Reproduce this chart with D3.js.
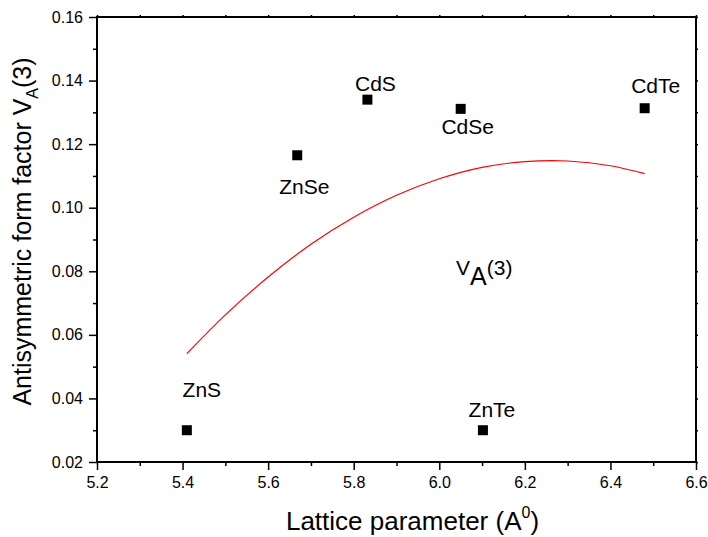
<!DOCTYPE html>
<html>
<head>
<meta charset="utf-8">
<script src="https://cdn.jsdelivr.net/npm/d3@7"></script>
<style>
  body { margin: 0; background: #fff; }
  text { font-family: 'Liberation Sans', Arial, sans-serif; fill: #000; }
</style>
</head>
<body>
<div id="app"></div>
<script>
'use strict'

// measured compounds
const compounds = ['ZnS', 'ZnSe', 'CdS', 'CdSe', 'ZnTe', 'CdTe']
const lattice   = [5.41, 5.668, 5.832, 6.05, 6.102, 6.48]
const vA3       = [0.030, 0.1165, 0.134, 0.1311, 0.030, 0.1313]

// red curve
const curveX = [5.41, 5.5, 5.6, 5.7, 5.8, 5.9, 6.0, 6.1, 6.2, 6.3, 6.4, 6.48]
const curveY = [0.0541, 0.0663, 0.0782, 0.0885, 0.0970, 0.1039, 0.1091, 0.1127, 0.1145, 0.1147, 0.1132, 0.1107]

const xTicks = [5.2, 5.4, 5.6, 5.8, 6.0, 6.2, 6.4, 6.6]
const yTicks = [0.02, 0.04, 0.06, 0.08, 0.10, 0.12, 0.14, 0.16]

// label offsets from the marker, in px
const labelOffset = {
	ZnS: [15, -33], ZnSe: [7, 39], CdS: [8, -9],
	CdSe: [7, 25], ZnTe: [9, -13], CdTe: [11, -15]
}

const margin = { top: 17, right: 12, bottom: 75, left: 97 }
const width  = 708 - margin.left - margin.right
const height = 537 - margin.top - margin.bottom

const svg = d3.select('#app').append('svg')
	.attr('width', 708)
	.attr('height', 537)
	.append('g')
	.attr('transform', `translate(${margin.left}, ${margin.top})`)

const x = d3.scaleLinear().domain([5.2, 6.6]).range([0, width])
const y = d3.scaleLinear().domain([0.02, 0.16]).range([height, 0])

const minorX = d3.range(5.3, 6.6, 0.2)
const minorY = d3.range(0.03, 0.16, 0.02)

const styleAxis = g => {
	g.selectAll('.domain').remove()
	g.selectAll('line').attr('stroke', '#000').attr('stroke-width', 1.5)
	g.selectAll('text').style('font-size', '16px')
}

// minor ticks
svg.append('g').attr('transform', `translate(0, ${height})`)
	.call(d3.axisBottom(x).tickValues(minorX).tickSize(4).tickFormat(''))
	.call(styleAxis)
svg.append('g')
	.call(d3.axisLeft(y).tickValues(minorY).tickSize(4).tickFormat(''))
	.call(styleAxis)

// major ticks
svg.append('g').attr('transform', `translate(0, ${height})`)
	.call(d3.axisBottom(x).tickValues(xTicks).tickSize(8).tickPadding(7).tickFormat(d3.format('.1f')))
	.call(styleAxis)
svg.append('g')
	.call(d3.axisLeft(y).tickValues(yTicks).tickSize(8).tickPadding(6).tickFormat(d3.format('.2f')))
	.call(styleAxis)

// top and right: little ticks only
svg.append('g')
	.call(d3.axisTop(x).tickValues(xTicks.concat(minorX)).tickSize(2).tickFormat(''))
	.call(styleAxis)
svg.append('g').attr('transform', `translate(${width}, 0)`)
	.call(d3.axisRight(y).tickValues(yTicks.concat(minorY)).tickSize(2).tickFormat(''))
	.call(styleAxis)

// frame
svg.append('rect')
	.attr('width', width).attr('height', height)
	.attr('fill', 'none').attr('stroke', '#000').attr('stroke-width', 2)

// fitted curve
const line = d3.line()
	.x((d, i) => x(curveX[i]))
	.y(d => y(d))
	.curve(d3.curveNatural)

svg.append('path')
	.datum(curveY)
	.attr('d', line)
	.attr('fill', 'none')
	.attr('stroke', '#ff0000')
	.attr('stroke-width', 1.2)

// points
const pts = compounds.map((c, i) => ({ name: c, a: lattice[i], v: vA3[i] }))

svg.selectAll('.pt').data(pts)
	.enter().append('rect')
	.attr('class', 'pt')
	.attr('x', d => x(d.a) - 5)
	.attr('y', d => y(d.v) - 5)
	.attr('width', 10).attr('height', 10)
	.attr('fill', '#000')

svg.selectAll('.lbl').data(pts)
	.enter().append('text')
	.attr('class', 'lbl')
	.attr('x', d => x(d.a) + labelOffset[d.name][0])
	.attr('y', d => y(d.v) + labelOffset[d.name][1])
	.attr('text-anchor', 'middle')
	.style('font-size', '21px')
	.text(d => d.name)

// V_A(3) annotation
const ann = svg.append('text')
	.attr('x', 359).attr('y', 258)
	.style('font-size', '21px')
ann.append('tspan').text('V')
ann.append('tspan').attr('dy', 10).style('font-size', '25px').text('A')
ann.append('tspan').attr('dy', -10).text('(3)')

// axis titles
const xt = svg.append('text')
	.attr('x', width / 2 + 16).attr('y', height + 68)
	.attr('text-anchor', 'middle')
	.style('font-size', '26px')
xt.append('tspan').text('Lattice parameter (A')
xt.append('tspan').attr('dy', -12).style('font-size', '16px').text('0')
xt.append('tspan').attr('dy', 12).text(')')

const yt = svg.append('text')
	.attr('transform', `translate(-66, ${height / 2 - 8}) rotate(-90)`)
	.attr('text-anchor', 'middle')
	.style('font-size', '25px')
yt.append('tspan').text('Antisymmetric form factor V')
yt.append('tspan').attr('dy', 7).style('font-size', '16px').text('A')
yt.append('tspan').attr('dy', -7).text('(3)')
</script>
</body>
</html>
